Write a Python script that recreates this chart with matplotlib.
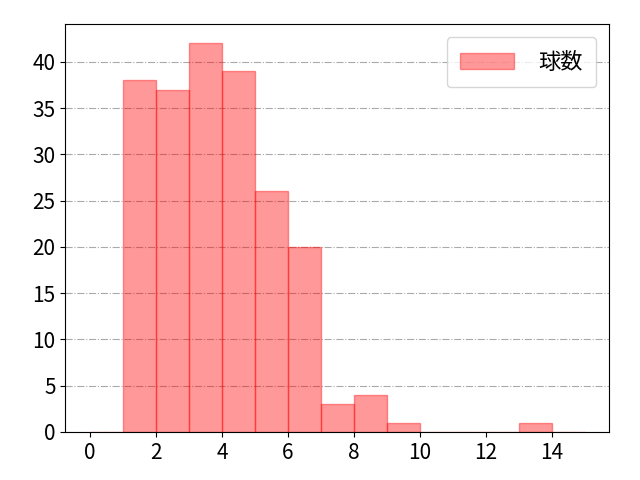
import numpy as np
import matplotlib
matplotlib.use('Agg')
import matplotlib.pyplot as plt

plt.rcParams['font.family'] = ['Noto Sans CJK JP', 'DejaVu Sans']

# histogram data (bin edges 0..15, width 1)
bin_edges = np.arange(0, 16)
counts = [0, 38, 37, 42, 39, 26, 20, 3, 4, 1, 0, 0, 0, 1, 0]
label = '球数'

fig, ax = plt.subplots(figsize=(6.4, 4.8), dpi=100)

ax.hist(bin_edges[:-1], bins=bin_edges, weights=counts,
        color='red', alpha=0.4, edgecolor='red', linewidth=1,
        label=label, zorder=2)

ax.grid(which='major', axis='y', linestyle='-.', color='#aaaaaa', zorder=0)
ax.set_axisbelow(True)
ax.tick_params(labelsize=15)
ax.set_xticks(np.arange(0, 16, 2))

leg = ax.legend(loc='upper right', fontsize=16, handlelength=2.4, handletextpad=1.1,
                borderpad=0.6, borderaxespad=0.6)

fig.tight_layout()
fig.subplots_adjust(left=0.102, right=0.952, top=0.95, bottom=0.1)
fig.savefig('out.png')
